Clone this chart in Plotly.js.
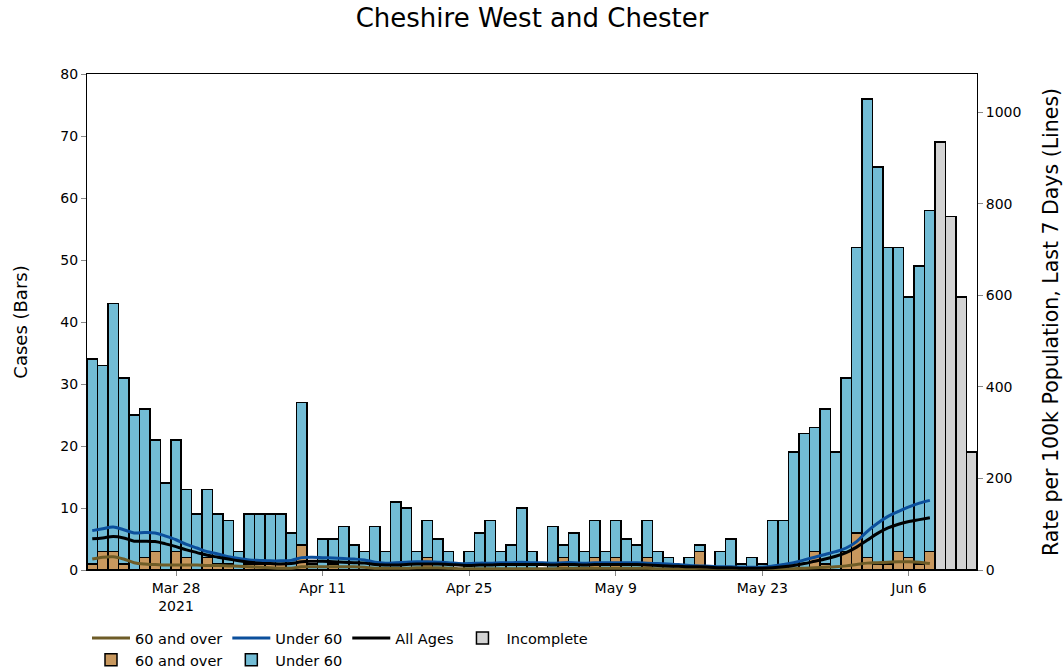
<!DOCTYPE html>
<html>
<head>
<meta charset="utf-8">
<script src="https://cdn.plot.ly/plotly-3.0.1.min.js"></script>
<style>html,body{margin:0;padding:0;background:#fff;}#chart{width:1064px;height:672px;}</style>
</head>
<body>
<div id="chart"></div>
<script>
// ---- data ----
const startDate = '2021-03-20';          // first complete day
const incompleteStart = '2021-06-09';    // first incomplete day

const over60Cases = [1,3,3,1,0,2,3,0,3,2, 0,2,1,1,0,1,1,1,1,0, 4,0,0,1,0,0,0,0,0,0,
  0,0,2,0,0,0,0,0,0,0, 0,0,0,0,0,2,0,0,2,0, 2,0,0,2,0,0,0,0,3,0,
  0,0,0,0,0,0,0,0,0,3, 1,0,3,6,2,1,1,3,2,1,3];
const under60Cases = [33,30,40,30,25,24,18,14,18,11, 9,11,8,7,3,8,8,8,8,6, 23,1,5,4,7,4,3,7,3,11,
  10,3,6,5,3,0,3,6,8,3, 4,10,3,0,7,2,6,3,6,3, 6,5,4,6,3,2,0,2,1,0,
  3,5,1,2,1,8,8,19,22,20, 25,19,28,46,74,64,51,49,42,48,55];
const incompleteCases = [69,57,44,19];

const over60Rate = [24,28,29,24,16,13,12,11,11,11, 11,10,10,9,8,7,6,5,4,4, 7,7,7,7,7,7,6,4,4,4,
  4,5,5,5,4,3,3,3,3,3, 3,3,3,3,3,4,4,4,4,4, 4,4,4,4,3,3,3,3,4,4,
  4,4,3,2,2,2,3,3,4,5, 6,7,9,12,15,16,17,18,18,17,14];
const under60Rate = [86,90,94,88,81,82,81,74,66,56, 48,40,35,29,25,22,21,20,20,21, 27,28,27,26,25,24,22,17,15,16,
  17,18,18,17,16,14,14,15,15,16, 16,17,16,16,15,16,16,15,16,16, 16,16,16,15,14,13,12,10,9,8,
  7,7,6,6,6,9,12,16,22,28, 34,40,48,62,84,102,117,128,138,146,152];
const allAgesRate = [68,70,73,70,63,63,62,57,51,44, 38,32,28,24,20,17,15,14,13,14, 18,19,19,18,17,16,15,12,11,11,
  12,13,13,13,12,11,10,11,11,12, 12,12,12,12,11,12,12,11,12,12, 12,12,12,11,10,9,8,7,7,6,
  5,5,4,4,4,5,7,10,14,19, 24,30,38,50,65,80,92,100,106,110,114];

// ---- helpers ----
function dayList(start, n) {
  const out = [];
  const d0 = new Date(start + 'T00:00:00Z');
  for (let i = 0; i < n; i++) {
    const d = new Date(d0.getTime() + i * 86400000);
    out.push(d.toISOString().slice(0, 10));
  }
  return out;
}
const days = dayList(startDate, under60Cases.length);
const incDays = dayList(incompleteStart, incompleteCases.length);

const FONT = 'DejaVu Sans, sans-serif';
const barLine = {color: '#000', width: 1.5};

const traces = [
  {type:'scatter', mode:'lines', name:'60 and over', legendgroup:'g60', x:days, y:over60Rate, yaxis:'y2',
   line:{color:'#6e5c27', width:3, shape:'spline'}},
  {type:'scatter', mode:'lines', name:'Under 60', legendgroup:'gU', x:days, y:under60Rate, yaxis:'y2',
   line:{color:'#0b4f9c', width:3, shape:'spline'}},
  {type:'scatter', mode:'lines', name:'All Ages', legendgroup:'gA', x:days, y:allAgesRate, yaxis:'y2',
   line:{color:'#000000', width:3, shape:'spline'}},
  {type:'bar', name:'Incomplete', legendgroup:'gI', x:incDays, y:incompleteCases,
   marker:{color:'#d3d3d3', line:barLine}},
  {type:'bar', name:'60 and over', legendgroup:'g60', x:days, y:over60Cases,
   marker:{color:'#c8985e', line:barLine}},
  {type:'bar', name:'Under 60', legendgroup:'gU', x:days, y:under60Cases,
   marker:{color:'#72bcd5', line:barLine}}
];

const layout = {
  width:1064, height:672,
  margin:{l:87, r:87, t:74, b:102, autoexpand:false},
  paper_bgcolor:'#fff', plot_bgcolor:'#fff',
  font:{family:FONT, size:14, color:'#000'},
  title:{text:'Cheshire West and Chester', font:{family:FONT, size:26, color:'#000'},
         x:0.5, xanchor:'center', y:1 - 18/672, yanchor:'middle', yref:'container'},
  barmode:'stack', bargap:0,
  showlegend:true,
  legend:{orientation:'h', x:0, xanchor:'left', y:-0.105, yanchor:'top',
          itemwidth:38, font:{family:FONT, size:14.5, color:'#000'}, traceorder:'grouped'},
  xaxis:{type:'date', range:['2021-03-19 12:00','2021-06-12 12:00'],
         tick0:'2021-03-28', dtick:14*86400000, ticks:'outside', ticklen:5, tickcolor:'#888',
         showline:true, linecolor:'#000', linewidth:1, mirror:true, showgrid:false, zeroline:false,
         tickfont:{size:14}},
  yaxis:{range:[0,80], dtick:10, ticks:'outside', ticklen:5, tickcolor:'#888',
         showline:true, linecolor:'#000', linewidth:1, showgrid:false, zeroline:false,
         title:{text:'Cases (Bars)', font:{size:18}, standoff:28}, tickfont:{size:14}},
  yaxis2:{overlaying:'y', side:'right', range:[0,1083], dtick:200, ticks:'outside', ticklen:5, tickcolor:'#888',
          showline:true, linecolor:'#000', linewidth:1, showgrid:false, zeroline:false,
          title:{text:'Rate per 100k Population, Last 7 Days (Lines)', font:{size:20.5}, standoff:23}, tickfont:{size:14}}
};

Plotly.newPlot('chart', traces, layout, {staticPlot:true, displayModeBar:false});
</script>
</body>
</html>
